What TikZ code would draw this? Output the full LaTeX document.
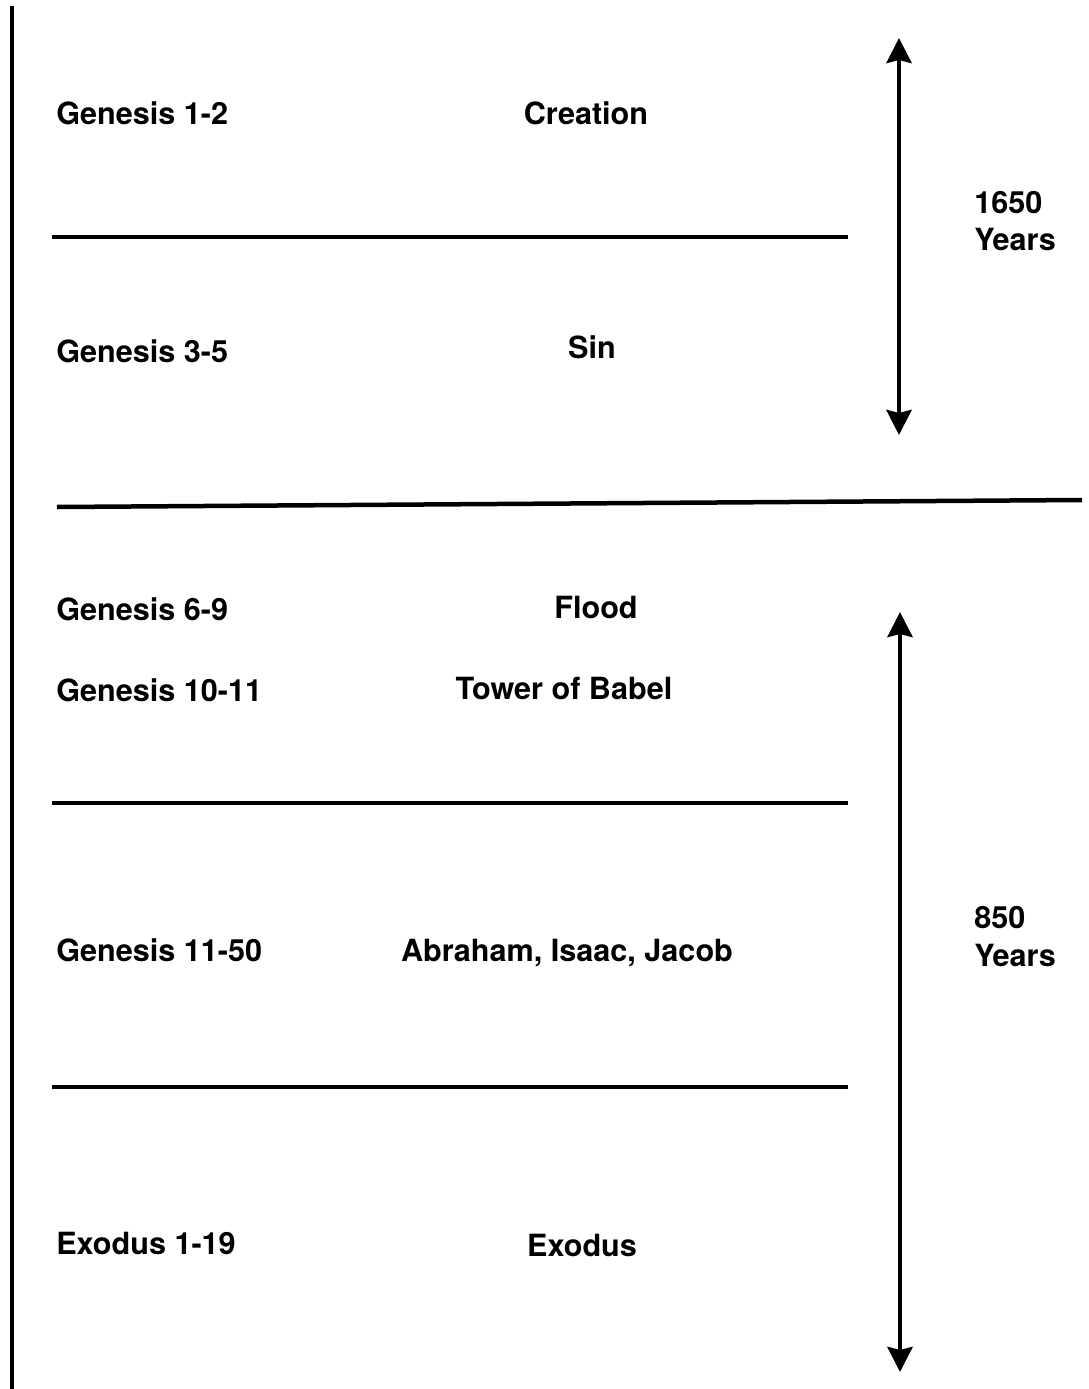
\documentclass[tikz,border=0pt]{standalone}
\usepackage{fontspec}
\setmainfont{TeX Gyre Heros}
\usetikzlibrary{arrows.meta}
\begin{document}
\begin{tikzpicture}[x=1pt,y=-1pt,line width=4.5pt,>={Stealth[length=25pt,width=25pt,inset=3pt]},
	lbl/.style={font=\bfseries\fontsize{30.6}{36}\selectfont,inner sep=0pt,text height=22pt,text depth=0pt},
	ref/.style={lbl,anchor=west}]
	\useasboundingbox (0,0) rectangle (1089,1389);
	\path
	(12,6) coordinate (T)
	(12,1389) coordinate (B)
	(52,237) coordinate (L1) (848,237) coordinate (R1)
	(57,507) coordinate (L2) (1082,500) coordinate (R2)
	(52,803) coordinate (L3) (848,803) coordinate (R3)
	(52,1087) coordinate (L4) (848,1087) coordinate (R4)
	(899,38) coordinate (Atop) (899,435) coordinate (Abot)
	(900,612) coordinate (Ctop) (900,1372) coordinate (Cbot);
	% time line and dividers
	\draw (T)--(B);
	\draw (L1)--(R1);
	\draw (L2)--(R2);
	\draw (L3)--(R3);
	\draw (L4)--(R4);
	% spans
	\draw[<->] (Atop)--(Abot);
	\draw[<->] (Ctop)--(Cbot);
	% chapters
	\node[ref] (gen12) at (54,113) {Genesis 1-2};
	\node[ref] (gen35) at (54,351) {Genesis 3-5};
	\node[ref] (gen69) at (54,609) {Genesis 6-9};
	\node[ref] (gen1011) at (54,690) {Genesis 10-11};
	\node[ref] (gen1150) at (54,950) {Genesis 11-50};
	\node[ref] (exo119) at (54,1243) {Exodus 1-19};
	% events
	\node[lbl] (creation) at (586,113) {Creation};
	\node[lbl] (sin) at (592,347) {Sin};
	\node[lbl] (flood) at (596,607) {Flood};
	\node[lbl] (babel) at (564,688) {Tower of Babel};
	\node[lbl] (patriarchs) at (567,950) {Abraham, Isaac, Jacob};
	\node[lbl] (exodus) at (582,1245) {Exodus};
	% years
	\node[ref] (n1650) at (972,202) {1650};
	\node[ref] (yrs1650) at (972,239) {Years};
	\node[ref] (n850) at (972,917) {850};
	\node[ref] (yrs850) at (972,955) {Years};
\end{tikzpicture}
\end{document}
